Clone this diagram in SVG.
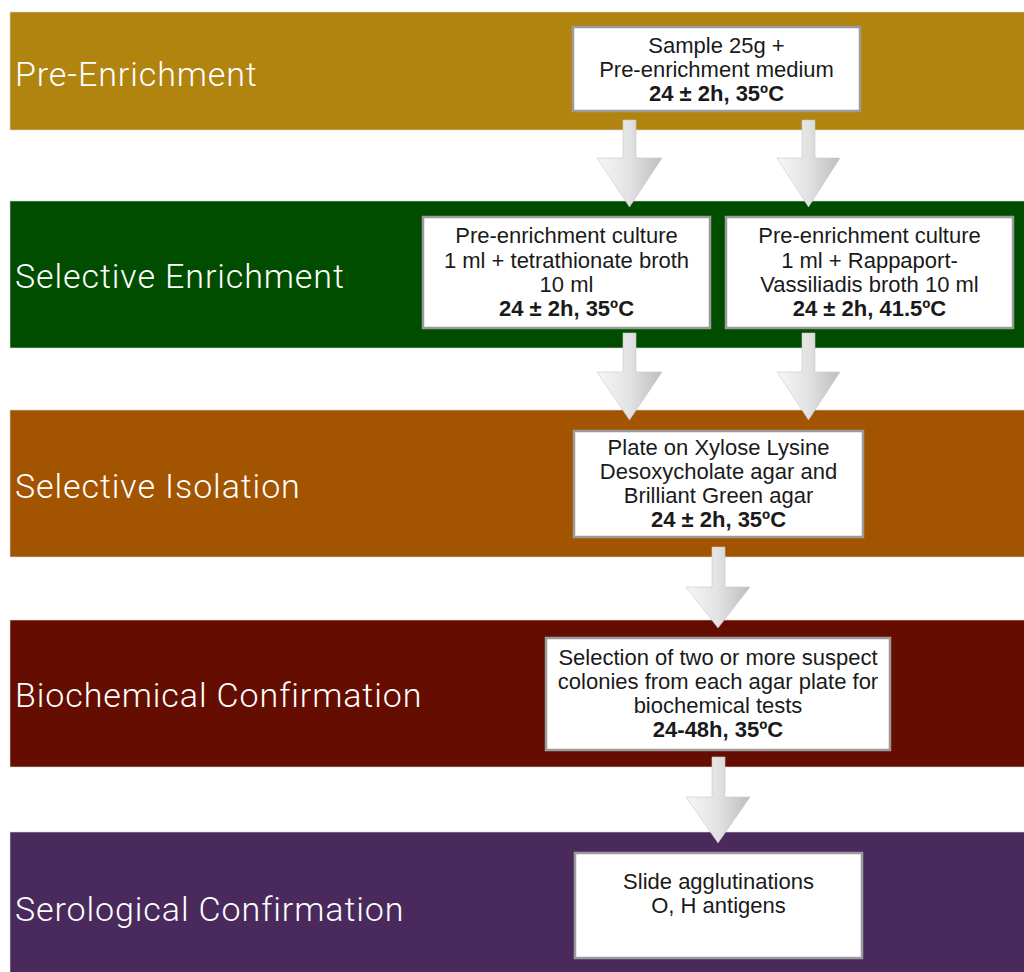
<svg xmlns="http://www.w3.org/2000/svg" width="1024" height="972" viewBox="0 0 1024 972">
<defs>
<linearGradient id="ag" x1="0" y1="0" x2="1" y2="0">
<stop offset="0" stop-color="#f7f7f7"/>
<stop offset="0.5" stop-color="#e2e2e2"/>
<stop offset="1" stop-color="#bdbdbd"/>
</linearGradient>
<style>
.band{stroke:#d8d8d8;stroke-width:0.6}
.lbl{font-family:Roboto,"Liberation Sans",sans-serif;font-weight:300;font-size:34px;letter-spacing:0.9px;fill:#ffffff}
.box{fill:#ffffff;stroke:#9b9b9b;stroke-width:2.5}
.t{font-family:"Liberation Sans",Arial,sans-serif;font-size:22px;fill:#1a1a1a;text-anchor:middle}
.b{font-weight:bold}
.arr{fill:url(#ag);stroke:#c8c8c8;stroke-width:0.6}
</style>
</defs>
<rect width="1024" height="972" fill="#ffffff"/>

<g id="band-pre-enrichment">
<rect class="band" x="10" y="12" width="1020" height="118" fill="#b0840f"/>
<text class="lbl" x="15" y="86">Pre-Enrichment</text>
</g>
<g id="band-selective-enrichment">
<rect class="band" x="10" y="201" width="1020" height="147" fill="#004d00"/>
<text class="lbl" x="15" y="288">Selective Enrichment</text>
</g>
<g id="band-selective-isolation">
<rect class="band" x="10" y="410" width="1020" height="147" fill="#a35400"/>
<text class="lbl" x="15" y="498">Selective Isolation</text>
</g>
<g id="band-biochemical">
<rect class="band" x="10" y="620" width="1020" height="147" fill="#650d00"/>
<text class="lbl" x="15" y="707">Biochemical Confirmation</text>
</g>
<g id="band-serological">
<rect class="band" x="10" y="832" width="1020" height="150" fill="#4a2a5c"/>
<text class="lbl" x="15" y="921">Serological Confirmation</text>
</g>

<g id="connectors">
<path class="arr" d="M623,120 H636 V158 H662 L629.5,207 L597,158 H623 Z"/>
<path class="arr" d="M802,120 H815 V158 H840 L808.5,207 L777,158 H802 Z"/>
<path class="arr" d="M623,333 H636 V372 H662 L629.5,420 L597,372 H623 Z"/>
<path class="arr" d="M802,333 H815 V372 H840 L808.5,420 L777,372 H802 Z"/>
<path class="arr" d="M712,547 H725 V587 H750 L718,628 L686,587 H712 Z"/>
<path class="arr" d="M712,757 H725 V797 H750 L718,843 L686,797 H712 Z"/>
</g>

<g id="node-sample">
<rect class="box" x="573" y="27" width="287" height="84"/>
<text class="t" x="716.5" y="53">Sample 25g +</text>
<text class="t" x="716.5" y="77">Pre-enrichment medium</text>
<text class="t b" x="716.5" y="101">24 ± 2h, 35ºC</text>
</g>
<g id="node-tetrathionate">
<rect class="box" x="423" y="217" width="287" height="111"/>
<text class="t" x="566.5" y="243">Pre-enrichment culture</text>
<text class="t" x="566.5" y="268">1 ml + tetrathionate broth</text>
<text class="t" x="566.5" y="292">10 ml</text>
<text class="t b" x="566.5" y="316">24 ± 2h, 35ºC</text>
</g>
<g id="node-rappaport">
<rect class="box" x="726" y="217" width="287" height="111"/>
<text class="t" x="869.5" y="243">Pre-enrichment culture</text>
<text class="t" x="869.5" y="268">1 ml + Rappaport-</text>
<text class="t" x="869.5" y="292">Vassiliadis broth 10 ml</text>
<text class="t b" x="869.5" y="316">24 ± 2h, 41.5ºC</text>
</g>
<g id="node-plate">
<rect class="box" x="574" y="431" width="289" height="106"/>
<text class="t" x="718.5" y="455">Plate on Xylose Lysine</text>
<text class="t" x="718.5" y="479">Desoxycholate agar and</text>
<text class="t" x="718.5" y="503">Brilliant Green agar</text>
<text class="t b" x="718.5" y="527">24 ± 2h, 35ºC</text>
</g>
<g id="node-selection">
<rect class="box" x="546" y="638" width="344" height="112"/>
<text class="t" x="718" y="665">Selection of two or more suspect</text>
<text class="t" x="718" y="689">colonies from each agar plate for</text>
<text class="t" x="718" y="713">biochemical tests</text>
<text class="t b" x="718" y="737">24-48h, 35ºC</text>
</g>
<g id="node-slide">
<rect class="box" x="575" y="853" width="287" height="105"/>
<text class="t" x="718.5" y="889">Slide agglutinations</text>
<text class="t" x="718.5" y="913">O, H antigens</text>
</g>
</svg>
